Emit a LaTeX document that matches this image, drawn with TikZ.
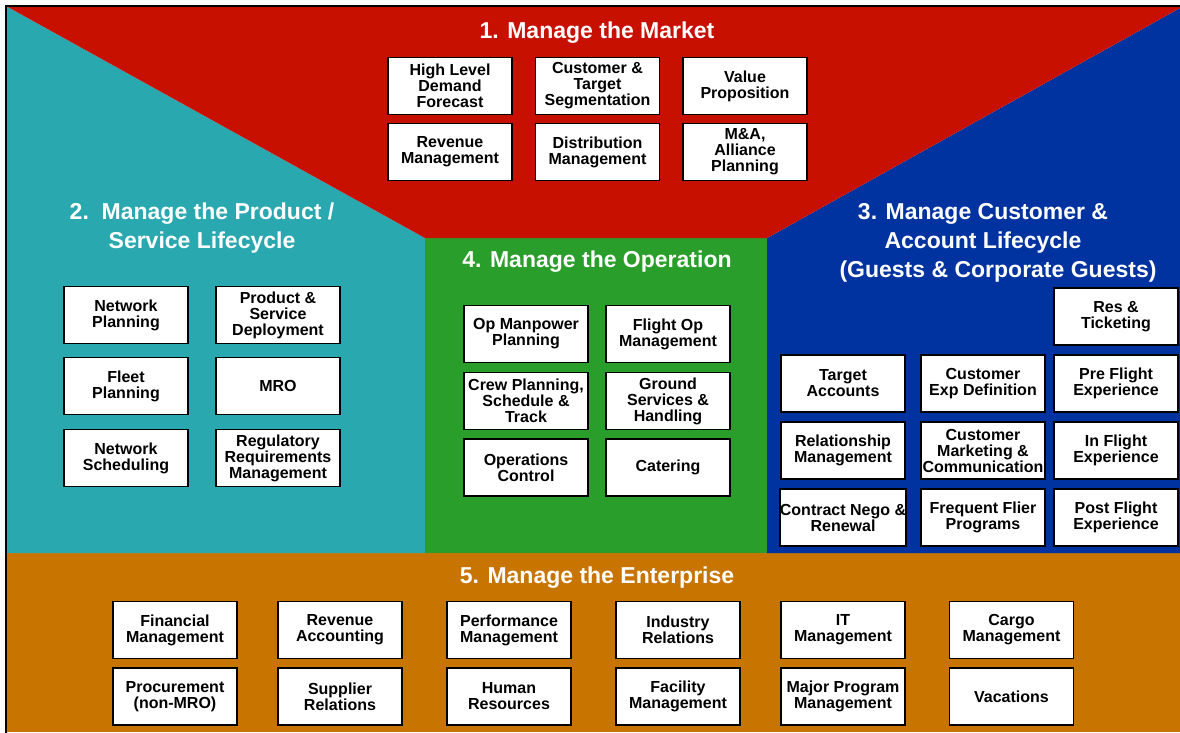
\documentclass[tikz,border=0pt]{standalone}
\usepackage{fontspec}
\setmainfont{Liberation Sans}
\definecolor{cRed}{RGB}{200,16,0}
\definecolor{cTeal}{RGB}{41,168,176}
\definecolor{cGreen}{RGB}{42,158,42}
\definecolor{cBlue}{RGB}{0,51,160}
\definecolor{cOrange}{RGB}{200,116,0}
\begin{document}
\begin{tikzpicture}[x=1pt,y=-1pt,
  box/.style={draw=black, line width=1.3pt, fill=white, minimum width=124pt, minimum height=57pt,
    inner sep=0pt, align=center, font=\bfseries\fontsize{16}{16}\selectfont, text=black},
  ttl/.style={text=white, align=center, font=\bfseries\fontsize{23}{29}\selectfont}]
\useasboundingbox (0,0) rectangle (1180,732);
\fill[white] (0,0) rectangle (1180,732);
% regions
\fill[cOrange] (6,553) rectangle (1180,732);
\fill[cTeal] (6,6) -- (425,238) -- (425,553) -- (6,553) -- cycle;
\fill[cGreen] (425,238) rectangle (767,553);
\fill[cBlue] (767,238) -- (1180,8) -- (1180,553) -- (767,553) -- cycle;
\fill[cRed] (6,6) -- (1180,6) -- (1180,8) -- (767,238) -- (425,238) -- cycle;
\draw[line width=2pt] (6,733) -- (6,6) -- (1181,6);
% titles
\node[ttl] (t1) at (597,33) {1. Manage the Market};
\node[ttl] (t2) at (202,228.5) {2.\ \ Manage the Product /\\Service Lifecycle};
\node[ttl] (t3) at (983,243) {3. Manage Customer \&\\Account Lifecycle\\\hspace*{30pt}(Guests \& Corporate Guests)};
\node[ttl] (t4) at (597,262) {4. Manage the Operation};
\node[ttl] (t5) at (597,578) {5. Manage the Enterprise};
% 1. market
\node[box] (m1) at (450,86) {High Level\\Demand\\Forecast};
\node[box] (m2) at (597.5,86) {Customer \&\\Target\\Segmentation};
\node[box] (m3) at (745,86) {Value\\Proposition};
\node[box] (m4) at (450,152) {Revenue\\Management};
\node[box] (m5) at (597.5,152) {Distribution\\Management};
\node[box] (m6) at (745,152) {M\&A,\\Alliance\\Planning};
% 2. product
\node[box] (p1) at (126,315) {Network\\Planning};
\node[box] (p2) at (278,315) {Product \&\\Service\\Deployment};
\node[box] (p3) at (126,386) {Fleet\\Planning};
\node[box] (p4) at (278,386) {MRO};
\node[box] (p5) at (126,458) {Network\\Scheduling};
\node[box] (p6) at (278,458) {Regulatory\\Requirements\\Management};
% 4. operation
\node[box] (o1) at (526,334) {Op Manpower\\Planning};
\node[box] (o2) at (668,334) {Flight Op\\Management};
\node[box] (o3) at (526,401) {Crew Planning,\\Schedule \&\\Track};
\node[box] (o4) at (668,401) {Ground\\Services \&\\Handling};
\node[box] (o5) at (526,467.5) {Operations\\Control};
\node[box] (o6) at (668,467.5) {Catering};
% 3. customer
\node[box] (c0) at (1116,316.5) {Res \&\\Ticketing};
\node[box] (c1) at (843,383.5) {Target\\Accounts};
\node[box] (c2) at (983,383.5) {Customer\\Exp Definition};
\node[box] (c3) at (1116,383.5) {Pre Flight\\Experience};
\node[box] (c4) at (843,450.5) {Relationship\\Management};
\node[box] (c5) at (983,450.5) {Customer\\Marketing \&\\Communication};
\node[box] (c6) at (1116,450.5) {In Flight\\Experience};
\node[box] (c7) at (843,517.5) {Contract Nego \&\\Renewal};
\node[box] (c8) at (983,517.5) {Frequent Flier\\Programs};
\node[box] (c9) at (1116,517.5) {Post Flight\\Experience};
% 5. enterprise
\node[box] (e1) at (175,630) {Financial\\Management};
\node[box] (e2) at (340,630) {Revenue\\Accounting};
\node[box] (e3) at (509,630) {Performance\\Management};
\node[box] (e4) at (678,630) {Industry\\Relations};
\node[box] (e5) at (843,630) {IT\\Management};
\node[box] (e6) at (1011.5,630) {Cargo\\Management};
\node[box] (e7) at (175,696.5) {Procurement\\(non-MRO)};
\node[box] (e8) at (340,696.5) {Supplier\\Relations};
\node[box] (e9) at (509,696.5) {Human\\Resources};
\node[box] (e10) at (678,696.5) {Facility\\Management};
\node[box] (e11) at (843,696.5) {Major Program\\Management};
\node[box] (e12) at (1011.5,696.5) {Vacations};
\end{tikzpicture}
\end{document}
